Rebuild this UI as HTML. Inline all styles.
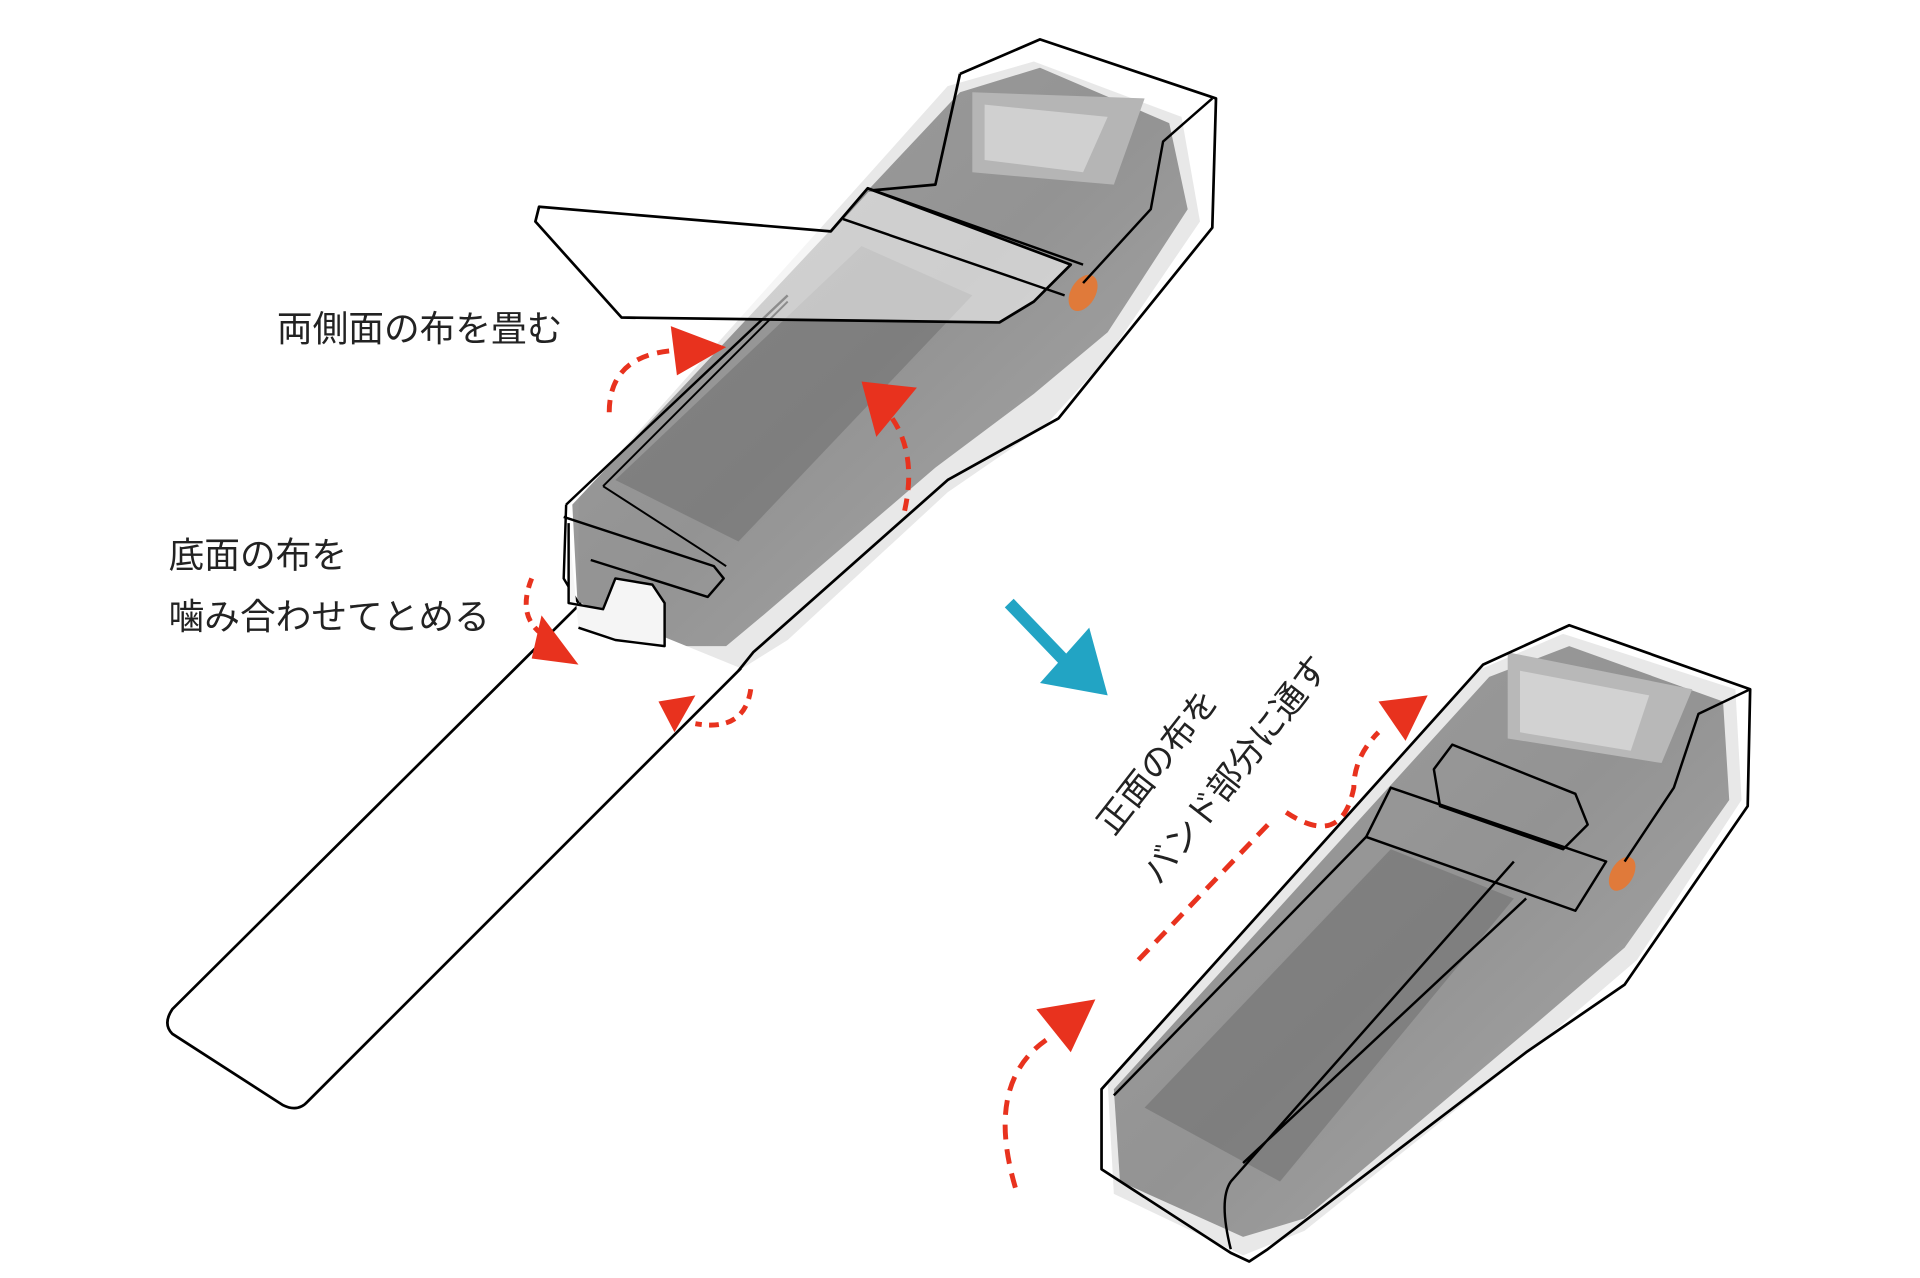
<!DOCTYPE html>
<html><head><meta charset="utf-8"><style>
html,body{margin:0;padding:0;background:#fff;width:1920px;height:1278px;overflow:hidden}
svg{display:block}
text{font-family:"Liberation Sans","Noto Sans CJK JP",sans-serif;fill:#222}
</style></head><body>
<svg width="1920" height="1278" viewBox="0 0 1560 1038.4" preserveAspectRatio="none" xmlns="http://www.w3.org/2000/svg">
<defs>
<linearGradient id="g1" x1="0" y1="0" x2="1" y2="1">
<stop offset="0" stop-color="#929292"/><stop offset="0.5" stop-color="#848484"/><stop offset="1" stop-color="#a2a2a2"/></linearGradient>
</defs>
<g stroke-linejoin="round">
<path d="M470,405 L770,70 L840,50 L960,95 L975,180 L900,290 L850,345 L770,400 L640,520 L600,545 L550,545 L470,520 Z" fill="#e8e8e8"/>
<path d="M465,410 L780,75 L845,55 L950,100 L965,170 L900,270 L840,320 L760,380 L620,500 L590,525 L555,525 L470,505 Z" fill="url(#g1)" opacity="0.85"/>
<path d="M790,75 L930,80 L905,150 L790,140 Z" fill="#b5b5b5"/>
<path d="M800,85 L900,95 L880,140 L800,130 Z" fill="#d0d0d0"/>
<path d="M500,390 L700,200 L790,240 L600,440 Z" fill="#6a6a6a" opacity="0.5"/>
<ellipse cx="880" cy="238" rx="10" ry="16" fill="#e07a3a" transform="rotate(30 880 238)"/>
<path d="M472,490 L140,820 Q132,832 140,840 L230,898 Q242,904 250,895 L602,543" fill="#fff" stroke="#000" stroke-width="2.2"/>
<path d="M780,60 L845,32 L988,80 L985,185 L860,340 L770,390 L612,530 L600,545" fill="none" stroke="#000" stroke-width="2.2"/>
<path d="M780,60 L760,150 L705,155 L675,188" fill="none" stroke="#000" stroke-width="2.2"/>
<path d="M985,80 L945,115 L935,170 L880,230" fill="none" stroke="#000" stroke-width="2"/>
<path d="M460,410 L640,240 M460,410 L458,470 L470,490 M458,420 L580,460 L588,470 L575,485 L480,455" fill="none" stroke="#000" stroke-width="2"/>
<path d="M462,425 L462,490 L490,495 L500,470 L530,475 L540,490 L540,525 L500,520 L470,510" fill="#f5f5f5" stroke="#000" stroke-width="2"/>
<path d="M490,395 L640,245 M490,395 L575,450 L590,460" fill="none" stroke="#000" stroke-width="1.6"/>
<path d="M438,168 L675,188 L705,153 L870,215 L840,245 L812,262 L505,258 L435,180 Z" fill="#fff" fill-opacity="0.55" stroke="#000" stroke-width="2.2"/>
<path d="M705,153 L880,215 M685,178 L865,240" stroke="#000" stroke-width="2" fill="none"/>
<text x="225" y="277" font-size="29">両側面の布を畳む</text>
<text x="137" y="461" font-size="29">底面の布を</text>
<text x="137" y="511" font-size="29">噛み合わせてとめる</text>
<path d="M495,335 Q495,290 545,285" fill="none" stroke="#e8321e" stroke-width="4" stroke-dasharray="10,7"/>
<path d="M545,265 L590,282 L550,305 Z" fill="#e8321e"/>
<path d="M735,415 Q745,370 725,340" fill="none" stroke="#e8321e" stroke-width="4" stroke-dasharray="10,7"/>
<path d="M700,310 L745,315 L712,355 Z" fill="#e8321e"/>
<path d="M432,470 Q420,500 440,515" fill="none" stroke="#e8321e" stroke-width="4" stroke-dasharray="8,6"/>
<path d="M440,500 L470,540 L432,535 Z" fill="#e8321e"/>
<path d="M610,560 Q605,595 565,588" fill="none" stroke="#e8321e" stroke-width="4" stroke-dasharray="8,6"/>
<path d="M535,570 L565,565 L548,595 Z" fill="#e8321e"/>
<path d="M820,490 L868,540" stroke="#22a4c4" stroke-width="10"/>
<path d="M845,555 L900,565 L885,510 Z" fill="#22a4c4"/>
<path d="M900,880 L1200,545 L1270,515 L1410,560 L1415,650 L1330,780 L1260,840 L1060,1000 L1010,1020 L905,970 Z" fill="#e8e8e8"/>
<path d="M905,885 L1210,550 L1275,525 L1400,570 L1405,650 L1320,770 L1250,830 L1060,990 L1010,1005 L910,960 Z" fill="url(#g1)" opacity="0.85"/>
<path d="M1225,530 L1375,560 L1350,620 L1225,600 Z" fill="#b8b8b8"/>
<path d="M1235,545 L1340,565 L1325,610 L1235,595 Z" fill="#d2d2d2"/>
<path d="M930,900 L1130,690 L1230,730 L1040,960 Z" fill="#6a6a6a" opacity="0.5"/>
<ellipse cx="1318" cy="710" rx="9" ry="15" fill="#e07a3a" transform="rotate(30 1318 710)"/>
<path d="M895,885 L1205,540 L1275,508 L1422,560 L1420,655 L1320,800 L1240,855 L1030,1015 L1015,1025 L1000,1018 L895,950 Z" fill="none" stroke="#000" stroke-width="2.2"/>
<path d="M1422,560 L1380,580 L1360,640 L1320,700" fill="none" stroke="#000" stroke-width="2"/>
<path d="M1130,640 L1305,700 L1280,740 L1110,680 Z" fill="none" stroke="#000" stroke-width="2"/>
<path d="M1165,625 L1180,605 L1280,645 L1290,670 L1270,690 L1170,655 Z" fill="none" stroke="#000" stroke-width="2"/>
<path d="M905,890 L1110,680 M1000,960 L1230,700 M1000,960 Q990,975 1000,1015 M1010,945 L1240,730" fill="none" stroke="#000" stroke-width="2"/>
<text font-size="28" transform="translate(905,680) rotate(-52)">正面の布を</text>
<text font-size="28" transform="translate(942,720) rotate(-52)">バンド部分に通す</text>
<path d="M925,780 L1035,665" fill="none" stroke="#e8321e" stroke-width="4" stroke-dasharray="12,8"/>
<path d="M1045,660 Q1090,690 1100,640 Q1100,615 1120,595" fill="none" stroke="#e8321e" stroke-width="4" stroke-dasharray="10,7"/>
<path d="M1120,570 L1160,565 L1142,602 Z" fill="#e8321e"/>
<path d="M825,965 Q800,880 850,845" fill="none" stroke="#e8321e" stroke-width="4" stroke-dasharray="12,8"/>
<path d="M842,820 L890,812 L870,855 Z" fill="#e8321e"/>
</g>
</svg>
</body></html>
